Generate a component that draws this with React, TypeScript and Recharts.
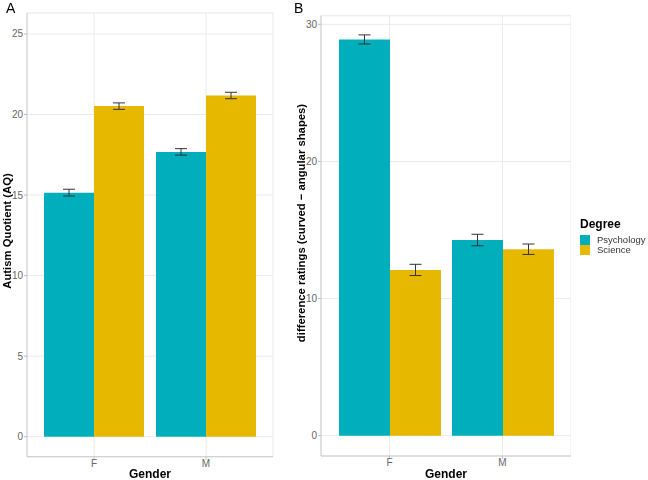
import React from 'react';
import { BarChart, Bar, XAxis, YAxis, CartesianGrid, ErrorBar } from 'recharts';

// ---- data ----
const genders = ['F', 'M'];
const seriesNames = ['Psychology', 'Science'];

const aqPsychology = [15.15, 17.68];
const aqPsychologyErr = [0.21, 0.2];
const aqScience = [20.52, 21.18];
const aqScienceErr = [0.2, 0.2];

const diffPsychology = [28.9, 14.27];
const diffPsychologyErr = [0.33, 0.42];
const diffScience = [12.09, 13.6];
const diffScienceErr = [0.41, 0.38];

const aqTicks = [0, 5, 10, 15, 20, 25];
const aqMinorTicks = [2.5, 7.5, 12.5, 17.5, 22.5];
const diffTicks = [0, 10, 20, 30];
const diffMinorTicks = [5, 15, 25];

const aqTitle = 'Autism Quotient (AQ)';
const diffTitle = 'difference ratings (curved \u2212 angular shapes)';
const xTitle = 'Gender';
const legendTitle = 'Degree';

const COLORS = ['#00AFBB', '#E7B800'];
const FONT = '"Liberation Sans", Arial, Helvetica, sans-serif';

const buildRows = (a: number[], ae: number[], b: number[], be: number[]) =>
  genders.map((g, i) => ({
    gender: g,
    psychology: a[i],
    psychologyErr: ae[i],
    science: b[i],
    scienceErr: be[i],
  }));

const aqData = buildRows(aqPsychology, aqPsychologyErr, aqScience, aqScienceErr);
const diffData = buildRows(diffPsychology, diffPsychologyErr, diffScience, diffScienceErr);

type PanelProps = {
  data: any[];
  domain: [number, number];
  ticks: number[];
  minorTicks: number[];
  width: number;
  marginTop: number;
  marginRight: number;
  yAxisWidth: number;
  xAxisHeight: number;
  pad: number;
  barSize: number;
};

function Panel(p: PanelProps) {
  const tickStyle = { fill: '#666666', fontSize: 10, fontFamily: FONT };
  return (
    <BarChart
      width={p.width}
      height={480}
      data={p.data}
      margin={{ top: p.marginTop, right: p.marginRight, bottom: 0, left: 0 }}
      barGap={0}
      barCategoryGap={0}
    >
      <CartesianGrid yAxisId="minor" horizontal vertical={false} stroke="#F4F4F4" strokeWidth={1} />
      <CartesianGrid yAxisId="main" stroke="#EBEBEB" strokeWidth={1} />
      <XAxis
        dataKey="gender"
        type="category"
        height={p.xAxisHeight}
        padding={{ left: p.pad, right: p.pad }}
        tick={tickStyle}
        tickSize={3}
        tickMargin={0}
        tickLine={{ stroke: '#BDBDBD' }}
        axisLine={{ stroke: '#CCCCCC' }}
      />
      <XAxis
        xAxisId="top"
        dataKey="gender"
        orientation="top"
        height={0}
        tick={false}
        tickLine={false}
        axisLine={{ stroke: '#CCCCCC' }}
      />
      <YAxis
        yAxisId="main"
        type="number"
        domain={p.domain}
        allowDataOverflow
        ticks={p.ticks}
        width={p.yAxisWidth}
        tick={tickStyle}
        tickSize={3}
        tickMargin={1}
        tickLine={{ stroke: '#BDBDBD' }}
        axisLine={{ stroke: '#CCCCCC' }}
      />
      <YAxis
        yAxisId="minor"
        orientation="right"
        type="number"
        domain={p.domain}
        allowDataOverflow
        ticks={p.minorTicks}
        width={0}
        tick={false}
        tickLine={false}
        axisLine={{ stroke: '#CCCCCC' }}
      />
      <Bar yAxisId="main" dataKey="psychology" name={seriesNames[0]} fill={COLORS[0]} barSize={p.barSize} isAnimationActive={false}>
        <ErrorBar dataKey="psychologyErr" direction="y" width={6} stroke="#333333" strokeWidth={1} />
      </Bar>
      <Bar yAxisId="main" dataKey="science" name={seriesNames[1]} fill={COLORS[1]} barSize={p.barSize} isAnimationActive={false}>
        <ErrorBar dataKey="scienceErr" direction="y" width={6} stroke="#333333" strokeWidth={1} />
      </Bar>
    </BarChart>
  );
}

export default function App() {
  return (
    <div style={{ position: 'fixed', left: 0, top: 0, width: 648, height: 480, background: '#FFFFFF' }}>
      <div style={{ position: 'absolute', left: 0, top: 0 }}>
        <Panel
          data={aqData}
          domain={[-1.24, 26.3]}
          ticks={aqTicks}
          minorTicks={aqMinorTicks}
          width={280}
          marginTop={13}
          marginRight={7}
          yAxisWidth={27}
          xAxisHeight={23.3}
          pad={11}
          barSize={50}
        />
      </div>
      <div style={{ position: 'absolute', left: 280, top: 0 }}>
        <Panel
          data={diffData}
          domain={[-1.48, 30.63]}
          ticks={diffTicks}
          minorTicks={diffMinorTicks}
          width={291}
          marginTop={15.7}
          marginRight={0}
          yAxisWidth={41}
          xAxisHeight={24}
          pad={12}
          barSize={51}
        />
      </div>
      <svg
        width={648}
        height={480}
        style={{ position: 'absolute', left: 0, top: 0, zIndex: 10, overflow: 'visible', pointerEvents: 'none' }}
        fontFamily={FONT}
      >
        <text x={6} y={12.5} fontSize={14} fill="#000">A</text>
        <text x={294} y={12.5} fontSize={14} fill="#000">B</text>
        <text x={150} y={478} fontSize={12} fontWeight="bold" textAnchor="middle" fill="#000">{xTitle}</text>
        <text x={446} y={478} fontSize={12} fontWeight="bold" textAnchor="middle" fill="#000">{xTitle}</text>
        <text x={10.5} y={231} fontSize={11.3} fontWeight="bold" textAnchor="middle" transform="rotate(-90 10.5 231)" fill="#000">{aqTitle}</text>
        <text x={305} y={223} fontSize={11.3} fontWeight="bold" textAnchor="middle" transform="rotate(-90 305 223)" fill="#000">{diffTitle}</text>
        <text x={580} y={227.5} fontSize={12} fontWeight="bold" fill="#000">{legendTitle}</text>
        {seriesNames.map((name, i) => (
          <g key={name}>
            <rect x={580} y={235 + i * 10} width={10} height={10} fill={COLORS[i]} />
            <text x={597} y={243 + i * 10} fontSize={9.5} fill="#333333">{name}</text>
          </g>
        ))}
      </svg>
    </div>
  );
}
